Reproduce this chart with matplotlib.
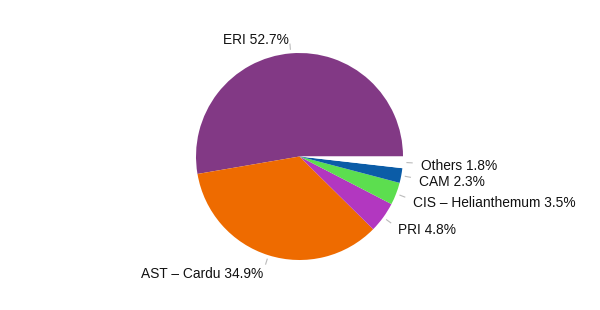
import numpy as np
import matplotlib
matplotlib.use("Agg")
import matplotlib.pyplot as plt

labels = ["ERI", "AST \u2013 Cardu", "PRI", "CIS \u2013 Helianthemum", "CAM", "Others"]
values = [52.7, 34.9, 4.8, 3.5, 2.3, 1.8]
colors = ["#823985", "#ee6b00", "#b237c0", "#5cde4f", "#0b5ca7", "#ffffff"]

plt.rcParams["font.family"] = ["Liberation Sans", "DejaVu Sans"]

fig = plt.figure(figsize=(6, 3.1), dpi=100)
ax = fig.add_axes([0, 0, 1, 1])

r_px = 103.5
cx, cy = 299.5, 156.5

wedges, _ = ax.pie(values, colors=colors, startangle=0, counterclock=True,
                   radius=1, center=(0, 0), frame=True,
                   wedgeprops=dict(linewidth=0))
ax.set_xlim(-cx / r_px, (600 - cx) / r_px)
ax.set_ylim(-(310 - cy) / r_px, cy / r_px)
ax.set_aspect("auto")
ax.axis("off")

# labels with short leader ticks
for w, lab, v in zip(wedges, labels, values):
    ang = np.deg2rad((w.theta1 + w.theta2) / 2)
    dx, dy = np.cos(ang), np.sin(ang)
    ax.plot([1.04 * dx, 1.09 * dx], [1.04 * dy, 1.09 * dy],
            color="#bbbbbb", lw=0.8)
    ha = "left" if dx > 0 else "right"
    ax.text(1.175 * dx, 1.16 * dy - 0.03, f"{lab} {v}%", ha=ha, va="center",
            fontsize=9.9, color="#111111")

fig.savefig("out.png", dpi=100)
